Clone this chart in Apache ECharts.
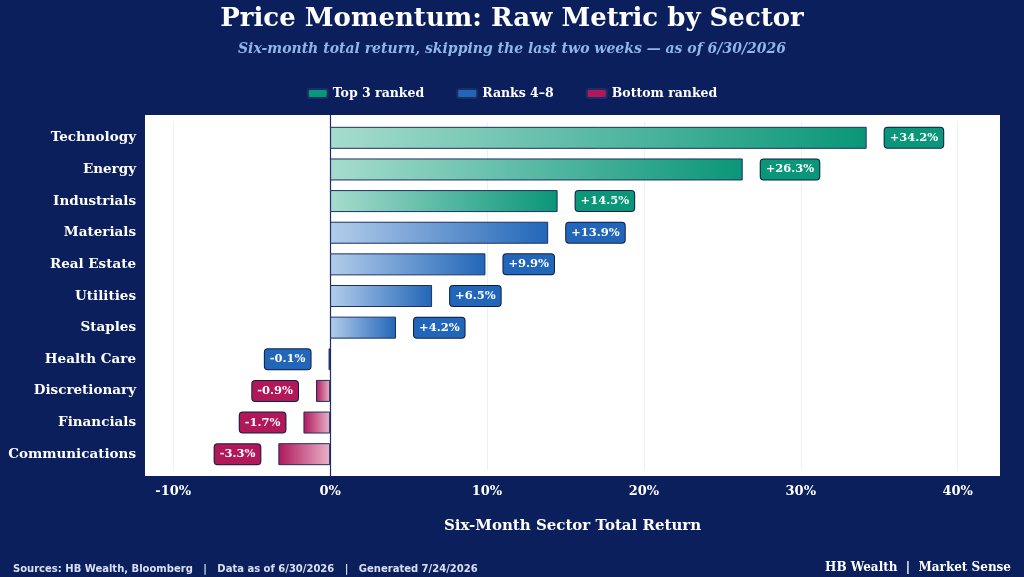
<!DOCTYPE html>
<html><head><meta charset="utf-8">
<script src="https://cdn.jsdelivr.net/npm/echarts@6/dist/echarts.min.js"></script>
<style>html,body{margin:0;background:#0b1f5c;}#c{width:1024px;height:577px;}</style>
</head><body><div id="c"></div>
<script>
var sectors = ['Technology','Energy','Industrials','Materials','Real Estate','Utilities','Staples','Health Care','Discretionary','Financials','Communications'];
var returns = [34.2, 26.3, 14.5, 13.9, 9.9, 6.5, 4.2, -0.1, -0.9, -1.7, -3.3];
var groups  = ['top','top','top','mid','mid','mid','mid','mid','bot','bot','bot'];
var tickValues = [-10, 0, 10, 20, 30, 40];

var groupInfo = {
  top: {name: 'Top 3 ranked', dark: '#0a9678', light: '#a6dccd'},
  mid: {name: 'Ranks 4–8', dark: '#2166b8', light: '#b3cdea'},
  bot: {name: 'Bottom ranked', dark: '#b0185a', light: '#e9b3c8'}
};
var serif = 'DejaVu Serif';

function makeSeries(key){
  var g = groupInfo[key];
  var data = returns.map(function(v, i){
    if (groups[i] !== key) return null;
    var pos = v >= 0;
    return {
      value: v,
      itemStyle: {color: new echarts.graphic.LinearGradient(0,0,1,0, pos ?
        [{offset:0,color:g.light},{offset:1,color:g.dark}] :
        [{offset:0,color:g.dark},{offset:1,color:g.light}])},
      label: {position: pos ? 'right' : 'left', distance: 18}
    };
  });
  return {
    name: g.name, type: 'bar', stack: 'a', barWidth: 22, data: data, z: 5,
    itemStyle: {color: g.dark, borderColor: '#1b2f66', borderWidth: 1},
    label: {
      show: true, color: '#fff', fontFamily: serif, fontWeight: 'bold', fontSize: 11.5,
      backgroundColor: g.dark, borderColor: '#0d1d45', borderWidth: 1, borderRadius: 3,
      padding: [4, 5],
      formatter: function(p){ return (p.value > 0 ? '+' : '') + p.value.toFixed(1) + '%'; }
    }
  };
}

var chart = echarts.init(document.getElementById('c'));
chart.setOption({
  backgroundColor: '#0b1f5c',
  graphic: [{type: 'rect', z: -10, shape: {x: 145, y: 115, width: 855, height: 361}, style: {fill: '#fff'}},
            {type: 'line', z: 1, shape: {x1: 330.5, y1: 115, x2: 330.5, y2: 476}, style: {stroke: '#1b2f66', lineWidth: 1.2}}],
  title: [{
    text: 'Price Momentum: Raw Metric by Sector', left: 'center', top: 1,
    textStyle: {color: '#fff', fontFamily: serif, fontWeight: 'bold', fontSize: 26},
  }, {
    text: 'Six-month total return, skipping the last two weeks — as of 6/30/2026', left: 'center', top: 37,
    textStyle: {color: '#8fb6e8', fontFamily: serif, fontStyle: 'italic', fontWeight: 'bold', fontSize: 14}
  }, {
    text: 'Sources: HB Wealth, Bloomberg   |   Data as of 6/30/2026   |   Generated 7/24/2026', left: 8, top: 559,
    textStyle: {color: '#d8e0f0', fontFamily: 'DejaVu Sans', fontWeight: 'bold', fontSize: 10}
  }, {
    text: 'HB Wealth  |  Market Sense', right: 8, top: 557,
    textStyle: {color: '#fff', fontFamily: serif, fontWeight: 'bold', fontSize: 12}
  }],
  legend: {
    top: 82, left: 'center', itemWidth: 20, itemHeight: 9, itemGap: 32,
    textStyle: {color: '#fff', fontFamily: serif, fontWeight: 'bold', fontSize: 12.5},
    data: ['Top 3 ranked','Ranks 4–8','Bottom ranked']
  },
  grid: {left: 145, right: 24, top: 122, bottom: 107},
  xAxis: {
    type: 'value', min: -11.8, max: 42.7,
    name: 'Six-Month Sector Total Return', nameLocation: 'middle', nameGap: 49,
    nameTextStyle: {color: '#fff', fontFamily: serif, fontWeight: 'bold', fontSize: 15},
    axisLine: {show: false},
    axisTick: {show: false},
    axisLabel: {customValues: tickValues, color: '#fff', fontFamily: serif, fontWeight: 'bold', fontSize: 13, margin: 15,
      formatter: function(v){ return v + '%'; }},
    splitLine: {show: false}
  },
  yAxis: {
    type: 'category', data: sectors, inverse: true,
    axisLine: {show: false}, axisTick: {show: false},
    axisLabel: {color: '#fff', fontFamily: serif, fontWeight: 'bold', fontSize: 13.5, margin: 9}
  },
  series: [makeSeries('top'), makeSeries('mid'), makeSeries('bot'), {
    type: 'line', data: [], silent: true, z: 1,
    markLine: {symbol: 'none', silent: true, label: {show: false}, z: 1,
      lineStyle: {color: '#eceff4', type: 'solid', width: 1},
      data: [{xAxis: -10}, {xAxis: 10}, {xAxis: 20}, {xAxis: 30}, {xAxis: 40}]}
  }]
});
</script></body></html>
